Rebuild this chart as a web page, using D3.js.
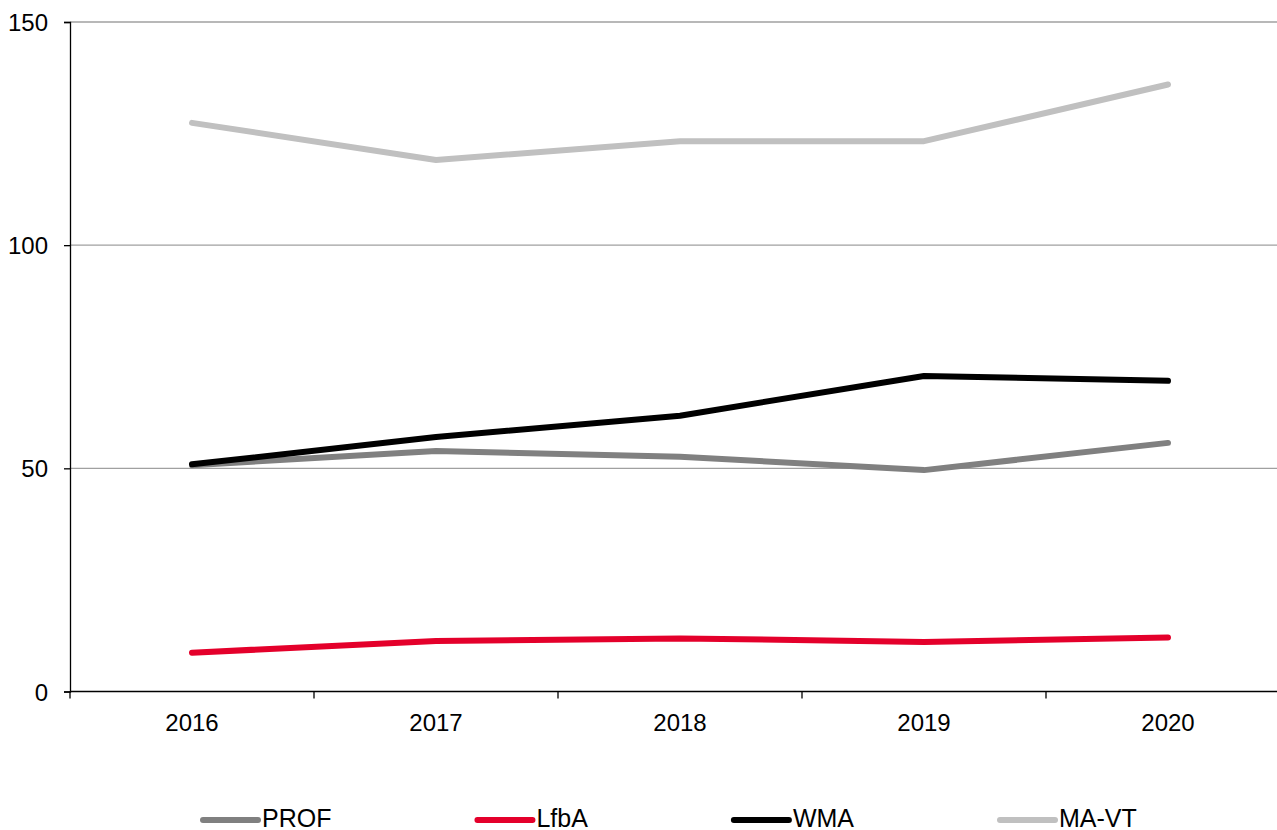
<!DOCTYPE html>
<html>
<head>
<meta charset="utf-8">
<script src="https://cdn.jsdelivr.net/npm/d3@7"></script>
<style>
  html, body { margin: 0; padding: 0; background: #fff; }
  svg { display: block; font-family: "Liberation Sans", Arial, sans-serif; }
</style>
</head>
<body>
<svg id="chart" width="1277" height="830"></svg>
<script>
const years = ["2016", "2017", "2018", "2019", "2020"];
const yTicks = [0, 50, 100, 150];
const seriesNames = ["PROF", "LfbA", "WMA", "MA-VT"];
const seriesColors = ["#808080", "#e4002b", "#000000", "#c0c0c0"];
const PROF = [50.7, 53.9, 52.6, 49.6, 55.7];
const LfbA = [8.7, 11.3, 11.9, 11.1, 12.1];
const WMA = [50.9, 57.0, 61.8, 70.7, 69.6];
const MAVT = [127.4, 119.1, 123.3, 123.3, 136.0];
const seriesValues = [PROF, LfbA, WMA, MAVT];

(function () {
const svg = d3.select("#chart");
const W = 1277;
const mLeft = 70, mTop = 22, mBottom = 691.5;

const x = d3.scaleBand().domain(years).range([mLeft, mLeft + 244 * 5]);
const y = d3.scaleLinear().domain([0, 150]).range([mBottom, mTop]);

// gridlines
svg.append("g").selectAll("line").data(yTicks.filter(d => d > 0)).join("line")
  .attr("x1", mLeft).attr("x2", W)
  .attr("y1", d => y(d)).attr("y2", d => y(d))
  .attr("stroke", "#a0a0a0").attr("stroke-width", 1.3);

// y axis
const yAxis = d3.axisLeft(y).tickValues(yTicks).tickSize(6).tickPadding(16);
const gy = svg.append("g").attr("transform", `translate(${mLeft},0)`).call(yAxis);
gy.select(".domain").attr("stroke", "#000").attr("stroke-width", 1.3);
gy.selectAll(".tick line").attr("stroke", "#000").attr("stroke-width", 1.3);
gy.selectAll(".tick text").attr("font-size", 24).attr("fill", "#000")
  .attr("font-family", "Liberation Sans, Arial, sans-serif").attr("dy", "0.36em");

// x axis
const xAxis = d3.axisBottom(x).tickSize(0).tickPadding(22);
const gx = svg.append("g").attr("transform", `translate(0,${mBottom})`).call(xAxis);
gx.select(".domain").remove();
gx.append("line").attr("x1", mLeft).attr("x2", W).attr("y1", 0).attr("y2", 0)
  .attr("stroke", "#000").attr("stroke-width", 1.3);
gx.selectAll(".tick text").attr("font-size", 24).attr("fill", "#000")
  .attr("font-family", "Liberation Sans, Arial, sans-serif");
// boundary ticks
gx.append("g").selectAll("line").data(years).join("line")
  .attr("x1", d => x(d)).attr("x2", d => x(d))
  .attr("y1", 0).attr("y2", 7)
  .attr("stroke", "#000").attr("stroke-width", 1.3);

// lines
const line = d3.line().x((d, i) => x(years[i]) + x.bandwidth() / 2).y(d => y(d));
seriesValues.forEach((vals, k) => {
  svg.append("path").datum(vals)
    .attr("d", line)
    .attr("fill", "none")
    .attr("stroke", seriesColors[k])
    .attr("stroke-width", 6)
    .attr("stroke-linecap", "round")
    .attr("stroke-linejoin", "round");
});

// legend
const lg = svg.append("g");
let lx = 203;
const ly = 820;
seriesNames.forEach((name, k) => {
  lg.append("line").attr("x1", lx).attr("x2", lx + 55).attr("y1", ly).attr("y2", ly)
    .attr("stroke", seriesColors[k]).attr("stroke-width", 6).attr("stroke-linecap", "round");
  const t = lg.append("text").attr("x", lx + 59).attr("y", 827)
    .attr("font-size", 25).attr("fill", "#000").text(name);
  const w = t.node().getComputedTextLength();
  lx = lx + 59 + w + 146;
});
})();
</script>
</body>
</html>
